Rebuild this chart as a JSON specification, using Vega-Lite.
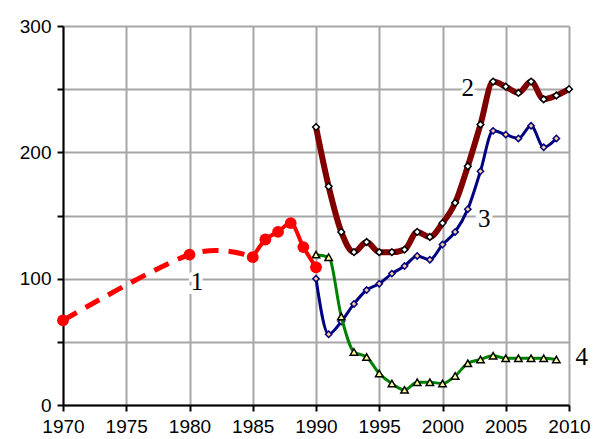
{
  "$schema": "https://vega.github.io/schema/vega-lite/v6.json",
  "width": 506,
  "height": 379,
  "autosize": {"type": "none"},
  "padding": {"left": 63, "top": 26, "right": 25, "bottom": 34},
  "background": "white",
  "config": {
    "view": {"stroke": null},
    "axis": {
      "labelFont": "Liberation Sans",
      "labelFontSize": 19,
      "labelColor": "black",
      "labelOverlap": false,
      "labelFlush": false,
      "domainColor": "black",
      "domainWidth": 2,
      "tickColor": "black",
      "tickWidth": 2,
      "tickSize": 6,
      "gridColor": "#a6a6a6",
      "gridWidth": 2,
      "title": null
    }
  },
  "datasets": {
    "d": [
      {"s": "1a", "year": 1970, "v": 67},
      {"s": "1a", "year": 1980, "v": 119},
      {"s": "1a", "year": 1985, "v": 117},
      {"s": "1", "year": 1985, "v": 117},
      {"s": "1", "year": 1986, "v": 131},
      {"s": "1", "year": 1987, "v": 137},
      {"s": "1", "year": 1988, "v": 144},
      {"s": "1", "year": 1989, "v": 125},
      {"s": "1", "year": 1990, "v": 109},
      {"s": "2", "year": 1990, "v": 220},
      {"s": "2", "year": 1991, "v": 173},
      {"s": "2", "year": 1992, "v": 137},
      {"s": "2", "year": 1993, "v": 121},
      {"s": "2", "year": 1994, "v": 129},
      {"s": "2", "year": 1995, "v": 121},
      {"s": "2", "year": 1996, "v": 121},
      {"s": "2", "year": 1997, "v": 123},
      {"s": "2", "year": 1998, "v": 137},
      {"s": "2", "year": 1999, "v": 133},
      {"s": "2", "year": 2000, "v": 144},
      {"s": "2", "year": 2001, "v": 160},
      {"s": "2", "year": 2002, "v": 189},
      {"s": "2", "year": 2003, "v": 222},
      {"s": "2", "year": 2004, "v": 256},
      {"s": "2", "year": 2005, "v": 252},
      {"s": "2", "year": 2006, "v": 247},
      {"s": "2", "year": 2007, "v": 256},
      {"s": "2", "year": 2008, "v": 242},
      {"s": "2", "year": 2009, "v": 245},
      {"s": "2", "year": 2010, "v": 250},
      {"s": "3", "year": 1990, "v": 100},
      {"s": "3", "year": 1991, "v": 56},
      {"s": "3", "year": 1992, "v": 66},
      {"s": "3", "year": 1993, "v": 80},
      {"s": "3", "year": 1994, "v": 91},
      {"s": "3", "year": 1995, "v": 96},
      {"s": "3", "year": 1996, "v": 104},
      {"s": "3", "year": 1997, "v": 110},
      {"s": "3", "year": 1998, "v": 118},
      {"s": "3", "year": 1999, "v": 115},
      {"s": "3", "year": 2000, "v": 127},
      {"s": "3", "year": 2001, "v": 137},
      {"s": "3", "year": 2002, "v": 155},
      {"s": "3", "year": 2003, "v": 185},
      {"s": "3", "year": 2004, "v": 217},
      {"s": "3", "year": 2005, "v": 214},
      {"s": "3", "year": 2006, "v": 211},
      {"s": "3", "year": 2007, "v": 221},
      {"s": "3", "year": 2008, "v": 204},
      {"s": "3", "year": 2009, "v": 211},
      {"s": "4", "year": 1990, "v": 119},
      {"s": "4", "year": 1991, "v": 117},
      {"s": "4", "year": 1992, "v": 70},
      {"s": "4", "year": 1993, "v": 42},
      {"s": "4", "year": 1994, "v": 38},
      {"s": "4", "year": 1995, "v": 25},
      {"s": "4", "year": 1996, "v": 17},
      {"s": "4", "year": 1997, "v": 12},
      {"s": "4", "year": 1998, "v": 18},
      {"s": "4", "year": 1999, "v": 18},
      {"s": "4", "year": 2000, "v": 17},
      {"s": "4", "year": 2001, "v": 23},
      {"s": "4", "year": 2002, "v": 33},
      {"s": "4", "year": 2003, "v": 36},
      {"s": "4", "year": 2004, "v": 39},
      {"s": "4", "year": 2005, "v": 37},
      {"s": "4", "year": 2006, "v": 37},
      {"s": "4", "year": 2007, "v": 37},
      {"s": "4", "year": 2008, "v": 37},
      {"s": "4", "year": 2009, "v": 36}
    ],
    "labels": [
      {"t": "1", "year": 1980.6, "v": 97},
      {"t": "2", "year": 2002.0, "v": 251},
      {"t": "3", "year": 2003.3, "v": 147},
      {"t": "4", "year": 2011.0, "v": 38}
    ]
  },
  "encoding": {
    "x": {
      "field": "year", "type": "quantitative",
      "scale": {"domain": [1970, 2010], "nice": false, "zero": false},
      "axis": {"values": [1970, 1975, 1980, 1985, 1990, 1995, 2000, 2005, 2010], "format": "d", "labelPadding": 6}
    },
    "y": {
      "field": "v", "type": "quantitative",
      "scale": {"domain": [0, 300], "nice": false},
      "axis": {"values": [0, 50, 100, 150, 200, 250, 300], "labelExpr": "datum.value % 100 == 0 ? datum.label : ''", "labelPadding": 6}
    }
  },
  "layer": [
    {
      "data": {"name": "d"},
      "transform": [{"filter": "datum.s == '2'"}],
      "mark": {"type": "line", "color": "#800000", "strokeWidth": 6, "interpolate": "monotone"}
    },
    {
      "data": {"name": "d"},
      "transform": [{"filter": "datum.s == '2'"}],
      "mark": {"type": "point", "shape": "diamond", "filled": true, "fill": "white", "stroke": "black", "strokeWidth": 1.5, "size": 45, "opacity": 1}
    },
    {
      "data": {"name": "d"},
      "transform": [{"filter": "datum.s == '3'"}],
      "mark": {"type": "line", "color": "#000080", "strokeWidth": 3, "interpolate": "monotone"}
    },
    {
      "data": {"name": "d"},
      "transform": [{"filter": "datum.s == '3'"}],
      "mark": {"type": "point", "shape": "diamond", "filled": true, "fill": "#ffcc99", "stroke": "#000080", "strokeWidth": 1.5, "size": 40, "opacity": 1}
    },
    {
      "data": {"name": "d"},
      "transform": [{"filter": "datum.s == '4'"}],
      "mark": {"type": "line", "color": "#008000", "strokeWidth": 3, "interpolate": "monotone"}
    },
    {
      "data": {"name": "d"},
      "transform": [{"filter": "datum.s == '4'"}],
      "mark": {"type": "point", "shape": "triangle-up", "filled": true, "fill": "#ffff99", "stroke": "black", "strokeWidth": 1.5, "size": 55, "opacity": 1}
    },
    {
      "data": {"name": "d"},
      "transform": [{"filter": "datum.s == '1a'"}],
      "mark": {"type": "line", "color": "#ff0000", "strokeWidth": 5, "strokeDash": [16, 10], "interpolate": "cardinal"}
    },
    {
      "data": {"name": "d"},
      "transform": [{"filter": "datum.s == '1'"}],
      "mark": {"type": "line", "color": "#ff0000", "strokeWidth": 4, "interpolate": "monotone"}
    },
    {
      "data": {"name": "d"},
      "transform": [{"filter": "datum.s == '1' || (datum.s == '1a' && datum.year != 1985)"}],
      "mark": {"type": "circle", "color": "#ff0000", "size": 140, "opacity": 1}
    },
    {
      "data": {"name": "labels"},
      "mark": {"type": "text", "font": "Liberation Serif", "fontSize": 25, "align": "center", "baseline": "middle", "stroke": "white", "strokeWidth": 8, "fill": "white"},
      "encoding": {"text": {"field": "t"}}
    },
    {
      "data": {"name": "labels"},
      "mark": {"type": "text", "font": "Liberation Serif", "fontSize": 25, "align": "center", "baseline": "middle", "fill": "black"},
      "encoding": {"text": {"field": "t"}}
    }
  ]
}
